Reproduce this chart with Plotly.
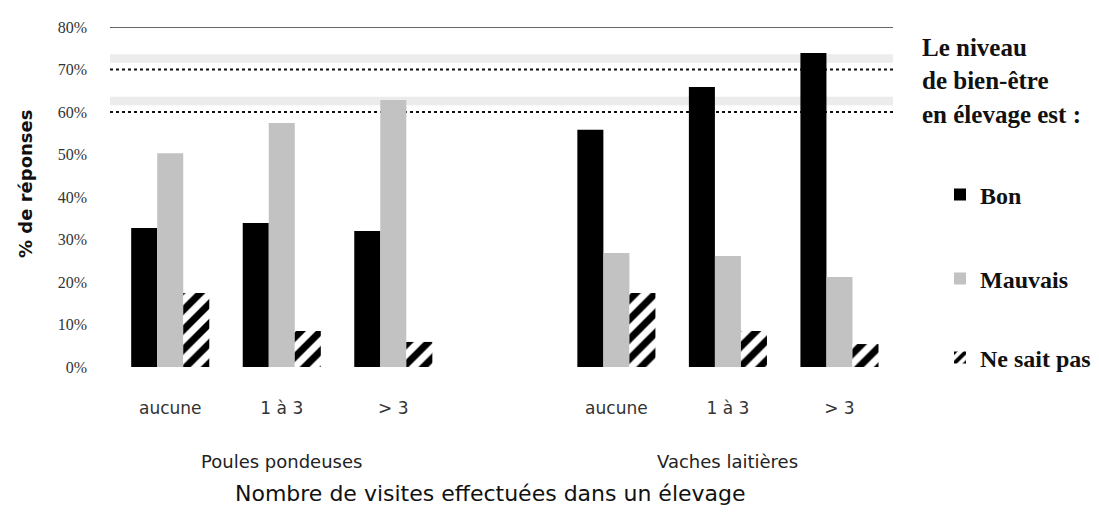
import plotly.graph_objects as go

# ---- data ----
categories = ["aucune", "1 à 3", "> 3"]
groups = ["Poules pondeuses", "Vaches laitières"]
bon = [32.7, 33.9, 32.0, 55.8, 65.9, 73.9]
mauvais = [50.3, 57.4, 62.8, 26.8, 26.1, 21.2]
ne_sait_pas = [17.4, 8.5, 5.9, 17.4, 8.5, 5.4]
y_ticks = [0, 10, 20, 30, 40, 50, 60, 70, 80]
ref_levels = [60, 70]
series_names = ["Bon", "Mauvais", "Ne sait pas"]
side_title = ["Le niveau", "de bien-être", "en élevage est :"]

# category positions: 3 per group, one empty slot between the groups
positions = [0, 1, 2, 4, 5, 6]
tick_text = categories + categories

serif = "Liberation Serif, DejaVu Serif, serif"
sans = "DejaVu Sans, Liberation Sans, sans-serif"

# plot area in pixels (for converting layout positions)
W, H = 1099, 518
L, R, T, B = 110, 893, 27, 367


def px_x(p):
    return (p - L) / (R - L)


def px_y(p):
    return (B - p) / (B - T)


fig = go.Figure()
fig.add_trace(go.Bar(x=positions, y=bon, name=series_names[0],
                     marker=dict(color="#000000", line=dict(width=0)),
                     legend="legend", showlegend=True))
fig.add_trace(go.Bar(x=positions, y=mauvais, name=series_names[1],
                     marker=dict(color="#c2c2c2", line=dict(width=0)),
                     legend="legend2", showlegend=True))
fig.add_trace(go.Bar(x=positions, y=ne_sait_pas, name=series_names[2],
                     marker=dict(color="#ffffff", line=dict(width=0),
                                 pattern=dict(shape="/", fgcolor="#000000",
                                              bgcolor="#ffffff", size=14,
                                              solidity=0.5, fgopacity=1)),
                     legend="legend3", showlegend=True))

# reference lines / bands
shapes = []
for lvl in ref_levels:
    shapes.append(dict(type="rect", xref="paper", x0=0, x1=1, yref="y",
                       y0=lvl + 1.6, y1=lvl + 3.6, fillcolor="#ececec",
                       line=dict(width=0), layer="below"))
    shapes.append(dict(type="line", xref="paper", x0=0, x1=1, yref="y",
                       y0=lvl, y1=lvl, line=dict(color="#111111", width=2, dash="dot"),
                       layer="below"))
shapes.append(dict(type="line", xref="paper", x0=0, x1=1, yref="y",
                   y0=y_ticks[-1], y1=y_ticks[-1],
                   line=dict(color="#666666", width=2), layer="below"))

annotations = [
    dict(text=groups[0], x=1, xref="x", y=px_y(462), yref="paper", showarrow=False,
         font=dict(family=sans, size=18, color="#222"), yanchor="middle"),
    dict(text=groups[1], x=5, xref="x", y=px_y(462), yref="paper", showarrow=False,
         font=dict(family=sans, size=18, color="#222"), yanchor="middle"),
    dict(text="Nombre de visites effectuées dans un élevage", x=px_x(490), xref="paper",
         y=px_y(493), yref="paper", showarrow=False,
         font=dict(family=sans, size=22, color="#111"), yanchor="middle"),
    dict(text="<b>% de réponses</b>", x=px_x(25), xref="paper", y=px_y(184),
         yref="paper", textangle=-90, showarrow=False, xanchor="center",
         yanchor="middle", font=dict(family=sans, size=18, color="#111")),
]
for txt, yp in zip(side_title, [47, 80, 114]):
    annotations.append(dict(text=f"<b>{txt}</b>", x=px_x(920), xref="paper",
                            xanchor="left", y=px_y(yp), yref="paper",
                            yanchor="middle", showarrow=False,
                            font=dict(family=serif, size=25, color="#111")))

leg_common = dict(xref="container", yref="container", xanchor="left",
                  yanchor="middle", bgcolor="rgba(0,0,0,0)",
                  font=dict(family=serif, size=24, color="#111", weight="bold"))

fig.update_layout(
    width=W, height=H, showlegend=True,
    margin=dict(l=L, r=W - R, t=T, b=H - B, autoexpand=False),
    paper_bgcolor="white", plot_bgcolor="white",
    barmode="group", bargap=0.3, bargroupgap=0,
    shapes=shapes, annotations=annotations,
    legend=dict(x=940 / W, y=1 - 195 / H, **leg_common),
    legend2=dict(x=940 / W, y=1 - 279 / H, **leg_common),
    legend3=dict(x=940 / W, y=1 - 358 / H, **leg_common),
    xaxis=dict(range=[-0.54, 6.48], tickmode="array", tickvals=positions,
               ticktext=tick_text, showgrid=False, zeroline=False, showline=False,
               ticks="", ticklabelstandoff=29, automargin=False,
               tickfont=dict(family=sans, size=17, color="#333")),
    yaxis=dict(range=[0, 80], tickmode="array", tickvals=y_ticks,
               ticktext=[f"{v}%" for v in y_ticks], showgrid=False, zeroline=False,
               showline=False, ticks="", ticklabelstandoff=22, automargin=False,
               tickfont=dict(family=serif, size=16, color="#333")),
)

fig.write_html("out.html", config={"displayModeBar": False},
               post_script="document.body.style.margin='0px';")
